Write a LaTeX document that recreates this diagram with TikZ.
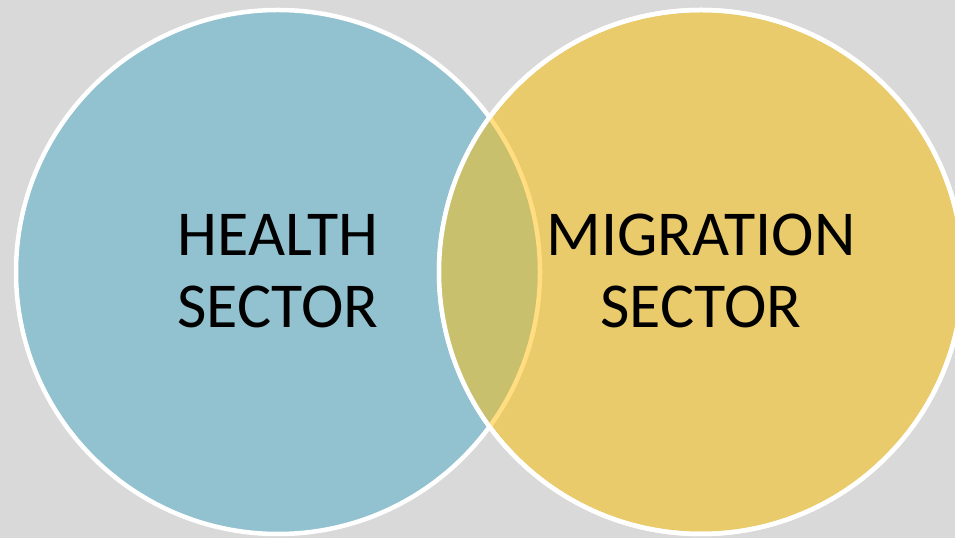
\documentclass[tikz,border=0pt]{standalone}
\usepackage{fontspec}
\setmainfont{Carlito}
\definecolor{HealthBlue}{HTML}{92C1CF}
\definecolor{MigrationGold}{HTML}{EACB6B}
\definecolor{OverlapOlive}{HTML}{C8C06C}
\definecolor{SeamYellow}{HTML}{FFDD80}
\definecolor{SlideGray}{HTML}{D9D9D9}
\tikzset{
  % Circle styles
  sectorcircle/.style={circle, draw=white, line width=4.5pt, minimum size=524pt, inner sep=0pt},
  % Label styles
  sectorlabel/.style={align=center, text=black, font=\fontsize{64}{72}\selectfont}
}

\begin{document}
\begin{tikzpicture}[x=1pt, y=1pt]
  % Slide background
  \fill[SlideGray] (0,0) rectangle (955,538);
  \useasboundingbox (0,0) rectangle (955,538);

  % Sectors
  \node[sectorcircle, fill=HealthBlue] (health) at (278,266) {};
  \node[sectorcircle, fill=MigrationGold] (migration) at (701,266) {};

  % Overlap
  \begin{scope}
    \clip (health.center) circle (262);
    \fill[OverlapOlive] (migration.center) circle (262);
  \end{scope}
  \begin{scope}
    \clip (migration.center) circle (262);
    \draw[SeamYellow, line width=4.5pt] (health.center) circle (262);
  \end{scope}
  \draw[white, line width=4.5pt] (migration.center) circle (262);

  % Labels
  \node[sectorlabel] (healthlabel) at (278,267) {HEALTH\\SECTOR};
  \node[sectorlabel] (migrationlabel) at (701,267) {MIGRATION\\SECTOR};
\end{tikzpicture}
\end{document}
